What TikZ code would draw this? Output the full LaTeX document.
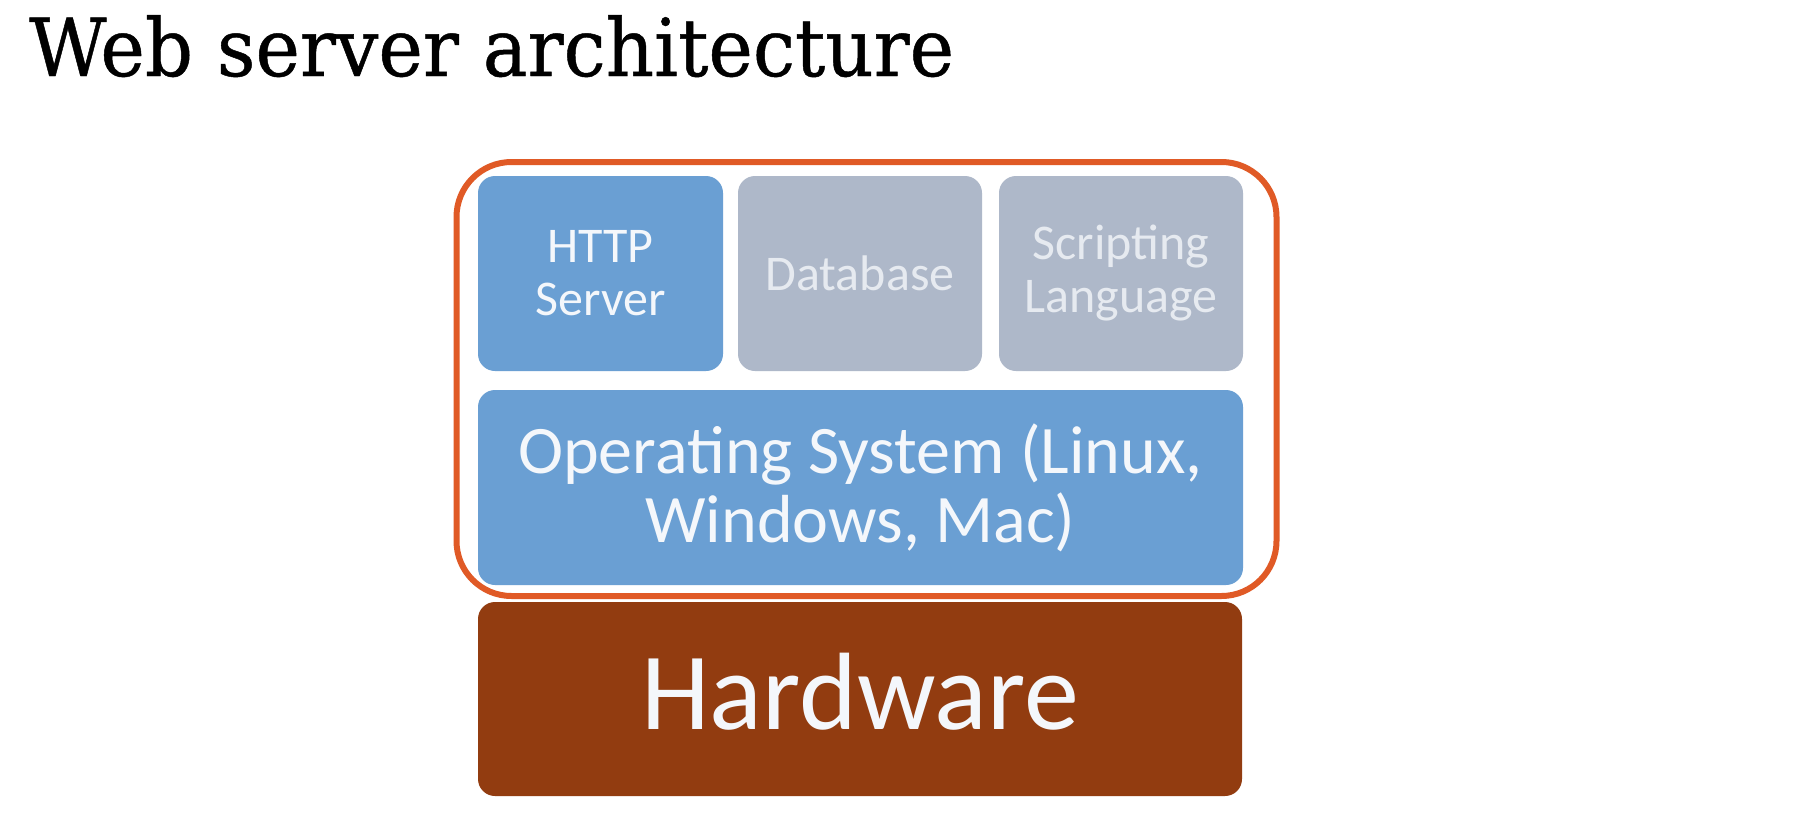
\documentclass[tikz,border=0pt]{standalone}
\usepackage{fontspec}
\setmainfont{Carlito}
\newfontfamily\titlefont[FakeBold=0.6]{DejaVu Serif}
\definecolor{blueA}{HTML}{6A9FD3}
\definecolor{grayA}{HTML}{AEB8C9}
\definecolor{brownA}{HTML}{923C10}
\definecolor{orangeA}{HTML}{E05A26}
\definecolor{txtW}{HTML}{F4F7FB}
\definecolor{txtG}{HTML}{E6EAF0}
\begin{document}
\begin{tikzpicture}[x=1pt,y=-1pt,
  box/.style={rectangle, rounded corners=17pt, draw=none, inner sep=0pt, align=center, text=txtW},
  small/.style={font=\fontsize{50}{53}\selectfont},
  mid/.style={font=\fontsize{68}{69}\selectfont},
  big/.style={font=\fontsize{110}{110}\selectfont}]
\fill[white] (0,0) rectangle (1808,814);
\useasboundingbox (0,0) rectangle (1808,814);
\node[anchor=base west, inner sep=0pt, font=\titlefont\fontsize{80}{90}\selectfont] (title) at (29,76) {\scalebox{0.94}[1]{Web server architecture}};
\node[box, small, fill=blueA, minimum width=245pt, minimum height=195pt] (http) at (600.5,273.5) {HTTP\\Server};
\node[box, small, fill=grayA, text=txtG, minimum width=244pt, minimum height=195pt] (db) at (860,273.5) {Database};
\node[box, small, fill=grayA, text=txtG, minimum width=244pt, minimum height=195pt] (script) at (1121,273.5) {Scripting\\Language};
\node[box, mid, fill=blueA, minimum width=765pt, minimum height=195pt] (os) at (860.5,487.5) {Operating System (Linux,\\Windows, Mac)};
\node[box, fill=brownA, minimum width=764pt, minimum height=194pt] (hw) at (860,699) {};
\node[big, text=txtW, inner sep=0pt] (hwtext) at (860,692) {Hardware};
\node[draw=orangeA, line width=6pt, rounded corners=55pt, minimum width=820pt, minimum height=434pt, inner sep=0pt] (stack) at (866.5,379) {};
\end{tikzpicture}
\end{document}
